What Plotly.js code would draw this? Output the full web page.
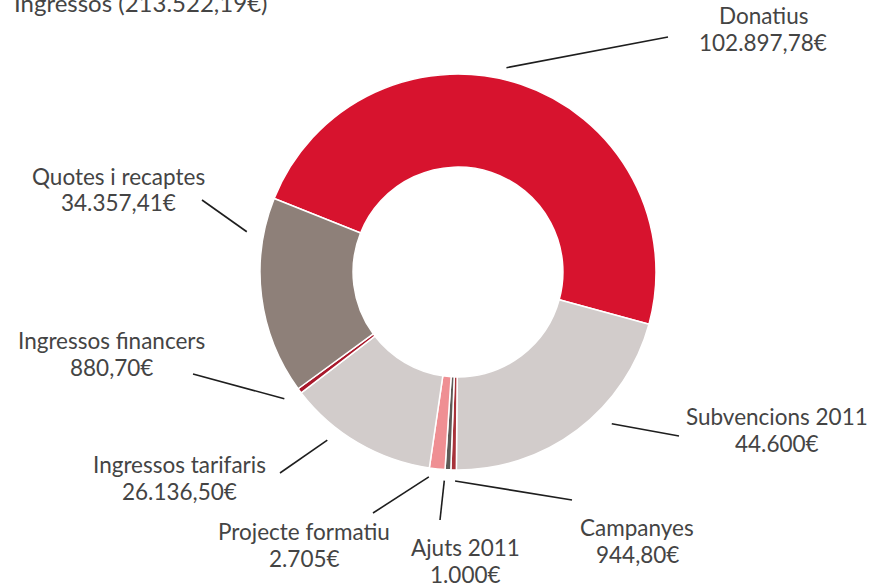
<!DOCTYPE html>
<html>
<head>
<meta charset="utf-8">
<script src="https://cdn.plot.ly/plotly-3.0.1.min.js"></script>
<style>html,body{margin:0;padding:0;background:#fff;}#chart{width:877px;height:587px;}</style>
</head>
<body>
<div id="chart"></div>
<script>
// ---- data ----
const categories = ['Donatius', 'Subvencions 2011', 'Campanyes', 'Ajuts 2011', 'Projecte formatiu', 'Ingressos tarifaris', 'Ingressos financers', 'Quotes i recaptes'];
const values = [102897.78, 44600, 944.80, 1000, 2705, 26136.50, 880.70, 34357.41];
const titleLabel = 'Ingressos';

// ---- styles / layout ----
const colors = ['#d7132e', '#d2cccb', '#a8323a', '#5e5a57', '#ef8f93', '#d2cccb', '#a8182b', '#8e8079'];
const W = 877, H = 587, CX = 458, CY = 272, R = 198;
const ROTATION = -68.2;
const LINE_GAP = 27;
// label block placement (pixels): centre x, block centre y
const labelPos = [
  [763, 28.5], [777, 430], [637, 540.5], [465, 560.5],
  [304, 544.5], [179, 478], [111, 353.5], [118, 189.5]
];
// leader: fraction within slice, radius from centre, end point (pixels)
const leader = [
  [0.47, 210, 668, 37], [0.39, 216, 679, 436], [0.2, 209, 572, 500], [1.0, 209, 440, 520],
  [0.95, 207, 373, 513], [0.67, 213, 280, 473], [1.0, 215, 193, 374], [0.81, 215, 202, 200]
];

function fmt(v) {
  const isInt = Math.abs(v - Math.round(v)) < 1e-9;
  let s = isInt ? String(Math.round(v)) : v.toFixed(2);
  let [ip, dp] = s.split('.');
  ip = ip.replace(/\B(?=(\d{3})+(?!\d))/g, '.');
  return ip + (dp ? ',' + dp : '') + '€';
}
const px = x => x / W;
const py = y => 1 - y / H;
const total = values.reduce((a, b) => a + b, 0);
const FONT = {family: 'Lato, "Open Sans", sans-serif', size: 22.5, color: '#444444'};

const annotations = [];
const shapes = [];
annotations.push({xref: 'paper', yref: 'paper', x: px(12), y: py(2), xanchor: 'left', yanchor: 'middle',
  text: titleLabel + ' (' + fmt(total) + ')', showarrow: false, font: Object.assign({}, FONT, {size: 24})});

let cum = 0;
const startMath = 90 - ROTATION;
categories.forEach((c, i) => {
  const [cx, cy] = labelPos[i];
  annotations.push({xref: 'paper', yref: 'paper', x: px(cx), y: py(cy - LINE_GAP / 2), xanchor: 'center', yanchor: 'middle', text: c, showarrow: false, font: FONT});
  annotations.push({xref: 'paper', yref: 'paper', x: px(cx), y: py(cy + LINE_GAP / 2), xanchor: 'center', yanchor: 'middle', text: fmt(values[i]), showarrow: false, font: FONT});
  const [frac, rr, ex, ey] = leader[i];
  const a = (startMath - (cum + frac * values[i]) / total * 360) * Math.PI / 180;
  const sx = CX + rr * Math.cos(a), sy = CY - rr * Math.sin(a);
  shapes.push({type: 'line', xref: 'paper', yref: 'paper', x0: px(sx), y0: py(sy), x1: px(ex), y1: py(ey),
    line: {color: '#1e1e1e', width: 1.6}});
  cum += values[i];
});

const trace = {
  type: 'pie',
  labels: categories,
  values: values,
  sort: false,
  direction: 'clockwise',
  rotation: ROTATION,
  hole: 0.53,
  textinfo: 'none',
  marker: {colors: colors, line: {color: '#ffffff', width: 1.5}},
  domain: {x: [(CX - R) / W, (CX + R) / W], y: [1 - (CY + R) / H, 1 - (CY - R) / H]},
  showlegend: false
};

Plotly.newPlot('chart', [trace], {
  width: W, height: H,
  margin: {l: 0, r: 0, t: 0, b: 0},
  paper_bgcolor: '#ffffff',
  showlegend: false,
  annotations: annotations,
  shapes: shapes
}, {displayModeBar: false, staticPlot: true});
</script>
</body>
</html>
